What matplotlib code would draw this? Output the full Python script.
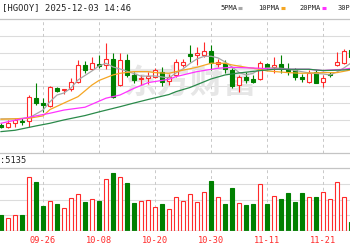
import matplotlib
matplotlib.use("Agg")
import matplotlib.pyplot as plt
from matplotlib.patches import Rectangle

# ---------------------------------------------------------------------------
# data (price in grid units, volume in grid units)
# ---------------------------------------------------------------------------
dates = ["09-26", "10-08", "10-20", "10-30", "11-11", "11-21"]
date_idx = [6, 14, 22, 30, 38, 46]

open_ = [1.68, 1.57, 1.78, 1.93, 1.93, 3.28, 3.01, 2.81, 3.91, 3.75,
         3.81, 4.27, 5.27, 5.01, 5.33, 5.27, 5.61, 4.07, 5.57, 4.67,
         4.45, 4.47, 4.57, 4.87, 4.33, 4.67, 5.27, 5.93, 5.85, 5.87,
         6.13, 5.35, 5.37, 4.97, 4.07, 4.57, 4.41, 4.41, 5.33, 5.13,
         5.33, 5.01, 4.97, 4.57, 4.27, 4.87, 4.23, 4.75, 5.27, 5.37, 6.17]
close = [1.57, 1.81, 1.98, 1.86, 3.37, 3.01, 2.86, 3.93, 3.73, 3.81,
         4.23, 5.27, 4.97, 5.37, 5.21, 5.61, 3.37, 5.57, 4.67, 4.37,
         4.51, 4.61, 4.97, 4.27, 4.57, 5.47, 5.47, 5.81, 5.97, 6.13,
         5.41, 5.47, 5.01, 4.01, 4.53, 4.37, 4.27, 5.37, 5.13, 5.27,
         5.05, 4.89, 4.57, 4.43, 4.81, 4.21, 4.51, 4.69, 5.43, 6.13, 5.77]
high = [1.78, 1.98, 2.08, 2.08, 3.47, 4.17, 3.28, 4.01, 3.97, 3.85,
        4.47, 5.57, 5.53, 5.73, 5.87, 6.60, 5.97, 5.97, 5.93, 4.87,
        4.67, 4.87, 5.07, 5.13, 4.73, 5.61, 5.61, 6.47, 6.37, 6.66,
        6.47, 5.61, 5.57, 5.07, 4.67, 4.87, 4.67, 5.53, 5.41, 5.77,
        5.87, 5.37, 5.07, 4.71, 4.97, 4.97, 4.67, 4.87, 6.07, 6.21, 6.29]
low = [1.48, 1.48, 1.54, 1.68, 1.54, 2.87, 2.47, 2.77, 3.63, 3.53,
       3.73, 4.21, 4.77, 4.97, 5.07, 5.01, 3.28, 4.01, 4.57, 4.17,
       4.07, 4.13, 4.47, 4.01, 4.07, 4.57, 5.17, 5.47, 5.27, 5.77,
       4.97, 5.13, 4.77, 3.87, 3.67, 4.17, 4.17, 4.37, 5.01, 4.77,
       4.81, 4.67, 4.37, 4.27, 4.17, 4.17, 3.97, 4.57, 5.21, 5.33, 5.69]

volume = [1.01, 0.80, 1.01, 1.01, 3.48, 3.12, 1.59, 1.92, 1.72, 1.48,
          2.09, 2.37, 1.85, 2.03, 1.92, 3.32, 3.70, 3.45, 3.06, 1.81,
          1.92, 1.98, 1.51, 1.72, 1.38, 2.15, 1.92, 2.35, 1.87, 2.48,
          3.21, 2.15, 1.72, 2.74, 1.81, 1.66, 1.72, 2.99, 1.72, 2.26,
          2.03, 2.41, 1.87, 2.41, 2.19, 2.19, 2.48, 2.03, 3.12, 2.19, 0.58]
vol_col = list("GRRGRGGRGR" "RRGRGRGRGG" "RRRGRRRRRR" "GRGGRGGRGR" "GGGGRGRRRR" "G")

ma5_i = [0, 2, 4, 6, 7, 8, 9, 10, 11, 12, 13, 14, 15, 16, 17, 18, 19, 20,
         22, 24, 25, 26, 27, 28, 29, 30, 31, 32, 33, 34, 35, 36, 37, 38, 39, 40,
         42, 44, 46, 47, 48, 49, 50]
ma5 = [2.04, 2.04, 2.10, 2.57, 3.07, 3.47, 3.59, 3.89, 4.37, 4.64, 4.91, 5.21,
       5.37, 5.15, 5.03, 4.89, 4.75, 4.60, 4.61, 4.49, 4.79, 5.03, 5.36, 5.63,
       5.78, 5.79, 5.69, 5.45, 5.15, 4.82, 4.67, 4.77, 5.01, 5.09, 5.09, 5.07,
       4.94, 4.79, 4.73, 4.67, 4.85, 5.09, 5.39]
ma10_i = [0, 4, 6, 7, 9, 11, 13, 14, 16, 17, 19, 21, 22, 24, 25, 28, 30, 32,
          33, 35, 37, 38, 41, 43, 46, 48, 50]
ma10 = [2.02, 2.08, 2.22, 2.60, 2.99, 3.37, 4.07, 4.34, 4.67, 4.77, 4.87, 4.87,
        4.81, 4.77, 4.87, 5.13, 5.37, 5.37, 5.27, 5.13, 5.01, 4.91, 4.81, 4.77,
        4.81, 4.81, 4.97]
ma20_i = [0, 4, 7, 9, 12, 15, 17, 19, 21, 24, 25, 28, 31, 33, 37, 39, 42, 44,
          46, 49, 50]
ma20 = [1.78, 2.14, 2.38, 2.57, 2.74, 3.28, 3.47, 3.87, 4.21, 4.41, 4.57, 4.87,
        5.07, 5.13, 5.07, 5.01, 5.01, 5.01, 4.93, 5.01, 5.07]
ma30_i = [0, 2, 5, 7, 9, 12, 14, 17, 19, 21, 24, 25, 27, 30, 32, 34, 37, 39,
          42, 44, 46, 49, 50]
ma30 = [1.28, 1.36, 1.62, 1.78, 1.98, 2.24, 2.46, 2.77, 2.99, 3.20, 3.50, 3.67,
        3.92, 4.43, 4.67, 4.79, 4.93, 5.01, 5.01, 5.01, 4.93, 4.97, 5.01]

ma_labels = ["5PMA", "10PMA", "20PMA", "30PMA"]

RED, GREEN = "#ff2a2a", "#008000"
MA_COLORS = ["#a8a8a8", "#f5a623", "#ff33ff", "#2a8a4a"]
GRID = "#dcdcdc"
W, H = 350, 250

fig = plt.figure(figsize=(W / 100, H / 100), dpi=100)


def px_axes(x0, y0, x1, y1):
    # rectangle given in pixels from the top-left corner
    return fig.add_axes([x0 / W, 1 - y1 / H, (x1 - x0) / W, (y1 - y0) / H])


xlim = (-1 / 7, W / 7 - 1 / 7)

# --- price panel -----------------------------------------------------------
ax = px_axes(0, 19.3, W, 153)
ax.set_xlim(*xlim)
ax.set_ylim(0, 8)
ax.axis("off")
for y in range(1, 8):
    ax.axhline(y, color=GRID, lw=0.8, zorder=0)
for d in date_idx:
    ax.axvline(d, color="#c8c8c8", lw=0.7, ls=(0, (3, 3)), zorder=0)
ax.text(27, 4.1, "东方财富", fontsize=24, color="#e6e6e6", ha="center",
        va="center", fontweight="bold", family=["Noto Sans CJK SC"], zorder=0)

bw = 0.64
for i, (o, c, h, l) in enumerate(zip(open_, close, high, low)):
    up = c >= o
    col = RED if up else GREEN
    ax.vlines(i, l, h, color=col, lw=0.8, zorder=2)
    lo, ht = min(o, c), max(abs(c - o), 0.03)
    ax.add_patch(Rectangle((i - bw / 2, lo), bw, ht,
                           facecolor="white" if up else GREEN,
                           edgecolor=col, lw=0.8, zorder=3))

for xs, ys, col in zip([ma5_i, ma10_i, ma20_i, ma30_i],
                       [ma5, ma10, ma20, ma30], MA_COLORS):
    ax.plot(xs, ys, color=col, lw=0.9, zorder=4)

# --- volume panel ----------------------------------------------------------
av = px_axes(0, 168.3, W, 230.7)
av.set_xlim(*xlim)
av.set_ylim(0, 4.03)
for s in av.spines.values():
    s.set_visible(False)
av.set_yticks([])
av.set_xticks(date_idx)
av.set_xticklabels(dates, family="DejaVu Sans Mono")
av.tick_params(axis="x", length=0, pad=4, labelsize=6.2, labelcolor=RED)
for y in (1, 2, 3):
    av.axhline(y, color=GRID, lw=0.8, zorder=0)
av.axhline(0, color="#a0a0a0", lw=0.9, zorder=4)
for d in date_idx:
    av.axvline(d, color="#c8c8c8", lw=0.7, ls=(0, (3, 3)), zorder=0)
for i, (v, c) in enumerate(zip(volume, vol_col)):
    up = c == "R"
    av.bar(i, v, width=0.64, facecolor="white" if up else GREEN,
           edgecolor=RED if up else GREEN, lw=0.8, zorder=2)

# --- header / labels overlay (pixel coordinates) ---------------------------
ov = fig.add_axes([0, 0, 1, 1])
ov.set_xlim(0, W)
ov.set_ylim(H, 0)
ov.axis("off")
ov.patch.set_visible(False)
for y in (19.3, 153.3, 168.3):
    ov.plot([0, W], [y, y], color="#c4c4c4", lw=0.9)

mono = "DejaVu Sans Mono"
ov.text(2, 8, "[HGOOY] 2025-12-03 14:46", fontsize=6.4, family=mono,
        color="#222222", va="center", ha="left")
for lbl, x, col in zip(ma_labels, [220, 258, 299, 338], MA_COLORS):
    ov.text(x, 7.5, lbl, fontsize=5.0, family=mono, color="#222222",
            va="center", ha="left")
    w = 4.2 * len(lbl)
    ov.plot([x + w + 1.5, x + w + 5.5], [7.5, 7.5], color=col, lw=2.2,
            solid_capstyle="butt")
ov.text(0, 160.5, ":5135", fontsize=6.2, family=mono, color="#222222",
        va="center", ha="left")

fig.savefig("out.png", dpi=100)
